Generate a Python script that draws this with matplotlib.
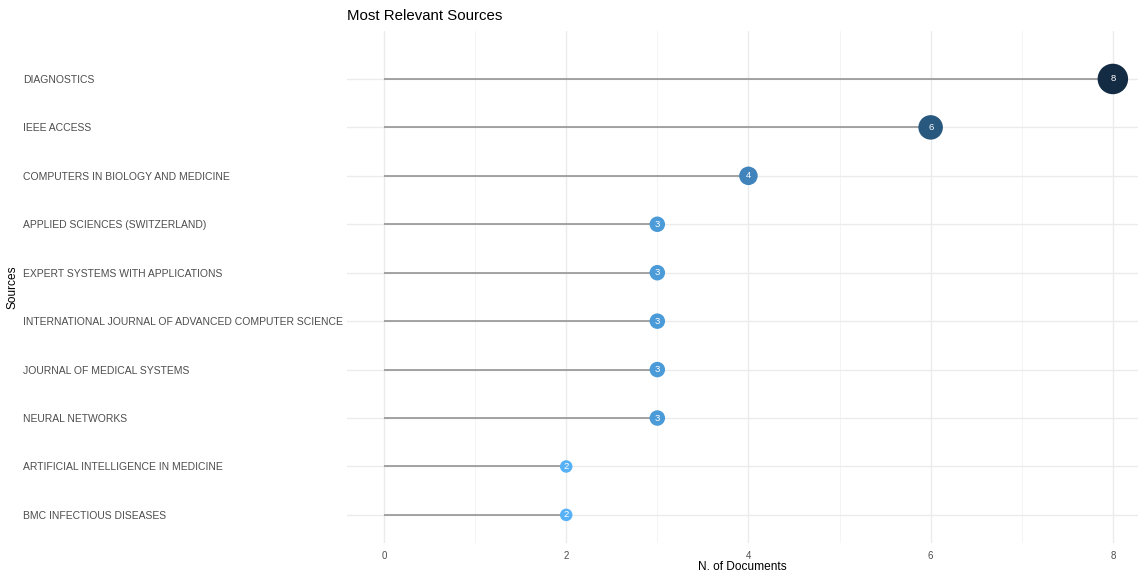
import matplotlib.pyplot as plt
import matplotlib.colors as mcolors
import numpy as np

plt.rcParams['font.family'] = ['Liberation Sans', 'DejaVu Sans']

sources = ["DIAGNOSTICS", "IEEE ACCESS", "COMPUTERS IN BIOLOGY AND MEDICINE",
           "APPLIED SCIENCES (SWITZERLAND)", "EXPERT SYSTEMS WITH APPLICATIONS",
           "INTERNATIONAL JOURNAL OF ADVANCED COMPUTER SCIENCE",
           "JOURNAL OF MEDICAL SYSTEMS", "NEURAL NETWORKS",
           "ARTIFICIAL INTELLIGENCE IN MEDICINE", "BMC INFECTIOUS DISEASES"]
documents = [8, 6, 4, 3, 3, 3, 3, 3, 2, 2]

fig = plt.figure(figsize=(11.38, 5.75), dpi=100)
ax = fig.add_axes([347/1138, 1-543/575, 791/1138, 512/575])

# ggplot-like continuous colour scale
cmap = mcolors.LinearSegmentedColormap.from_list("gg", ["#56B1F7", "#132B43"])
norm = mcolors.Normalize(vmin=min(documents), vmax=max(documents))

ypos = np.arange(len(sources), 0, -1)
vals = np.array(documents)

ax.hlines(ypos, 0, vals, color="#8c8c8c", lw=1.1, zorder=2)
diam_pt = (3 * vals + 6.5) * 0.72
ax.scatter(vals, ypos, s=diam_pt ** 2, c=cmap(norm(vals)), zorder=3, linewidths=0)
for v, y in zip(vals, ypos):
    ax.text(v, y, str(v), ha="center", va="center", color="white",
            fontsize=6.8, zorder=4)

ax.set_xlim(-0.406, 8.276)
ax.set_ylim(0.42, 10.99)
ax.set_xticks([0, 2, 4, 6, 8])
ax.set_xticks([1, 3, 5, 7], minor=True)
ax.set_yticks(ypos)
ax.set_yticklabels(sources, ha="left", fontsize=7.45, color="#4d4d4d")
ax.tick_params(axis="y", length=0, pad=233)
ax.tick_params(axis="x", which="both", length=0, pad=6, labelsize=7, labelcolor="#4d4d4d")

ax.grid(True, which="major", color="#ebebeb", lw=1.0, zorder=0)
ax.grid(True, which="minor", axis="x", color="#f2f2f2", lw=0.6, zorder=0)
ax.set_axisbelow(True)
for s in ax.spines.values():
    s.set_visible(False)

fig.text(742/1138, 1-567/575, "N. of Documents", ha="center", va="center", fontsize=8.6)
fig.text(13/1138, 1-287/575, "Sources", rotation=90, ha="center", va="center", fontsize=8.6)
fig.text(347/1138, 1-16/575, "Most Relevant Sources", ha="left", va="center", fontsize=10.8)

fig.savefig("out.png", dpi=100)
